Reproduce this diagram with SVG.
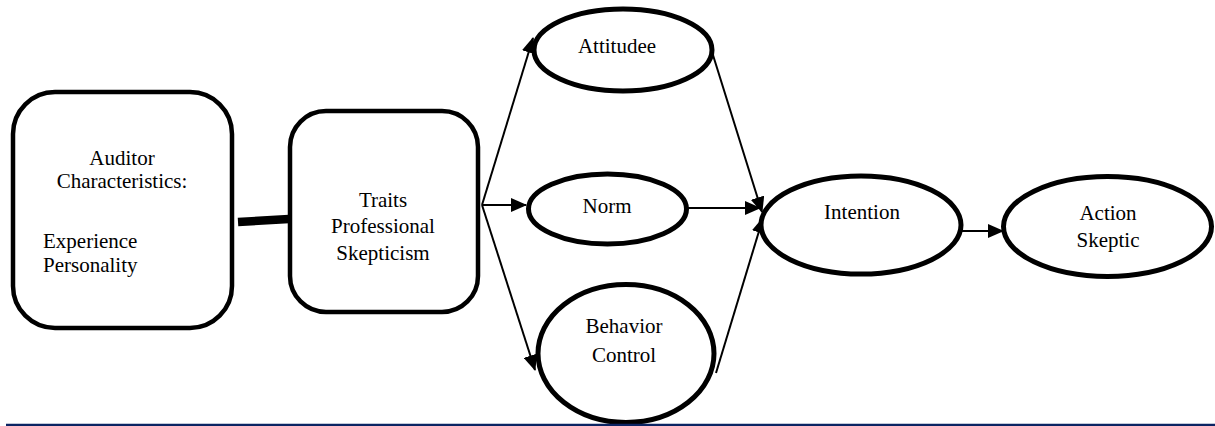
<svg xmlns="http://www.w3.org/2000/svg" width="1215" height="426" viewBox="0 0 1215 426">
<style>
  .box { fill: #ffffff; stroke: #000000; stroke-width: 4.5; }
  .ell { fill: #ffffff; stroke: #000000; stroke-width: 5; }
  .lbl { font-size: 21px; fill: #000000; }
  .c { text-anchor: middle; }
  .arr { stroke: #000000; stroke-width: 2; fill: none; marker-end: url(#ah); }
</style>
<defs>
  <marker id="ah" markerUnits="userSpaceOnUse" markerWidth="16" markerHeight="14" viewBox="0 0 16 14" refX="15" refY="7" orient="auto">
    <path d="M0,0 L16,7 L0,14 Z" fill="#000000"/>
  </marker>
</defs>
<rect x="0" y="0" width="1215" height="426" fill="#ffffff"/>

<g id="connectors">
  <line x1="238" y1="222" x2="289" y2="219" stroke="#000000" stroke-width="8.5"/>
  <line class="arr" x1="482" y1="205" x2="533" y2="38"/>
  <line class="arr" x1="482" y1="205" x2="526" y2="205"/>
  <line class="arr" x1="482" y1="205" x2="535" y2="370"/>
  <line class="arr" x1="713" y1="55" x2="762" y2="212"/>
  <line class="arr" x1="682" y1="208" x2="760" y2="208"/>
  <line class="arr" x1="716" y1="373" x2="763" y2="218"/>
  <line class="arr" x1="950" y1="231" x2="1003" y2="231"/>
</g>

<g font-family="'Liberation Serif', 'Times New Roman', 'DejaVu Serif', serif">
<g id="auditor">
  <rect class="box" x="13" y="92" width="219" height="236" rx="42" ry="42"/>
  <text class="lbl c" x="122" y="165">Auditor</text>
  <text class="lbl c" x="122" y="188">Characteristics:</text>
  <text class="lbl" x="43" y="248">Experience</text>
  <text class="lbl" x="43" y="272">Personality</text>
</g>

<g id="traits">
  <rect class="box" x="290" y="111" width="188" height="201" rx="36" ry="36"/>
  <text class="lbl c" x="383" y="207">Traits</text>
  <text class="lbl c" x="383" y="233">Professional</text>
  <text class="lbl c" x="383" y="260">Skepticism</text>
</g>

<g id="attitude">
  <ellipse class="ell" cx="623" cy="50" rx="89" ry="41"/>
  <text class="lbl c" x="617" y="53">Attitudee</text>
</g>

<g id="norm">
  <ellipse class="ell" cx="607.5" cy="209" rx="79" ry="35"/>
  <text class="lbl c" x="607" y="213">Norm</text>
</g>

<g id="behavior">
  <ellipse class="ell" cx="626" cy="353.5" rx="88" ry="69"/>
  <text class="lbl c" x="624" y="333">Behavior</text>
  <text class="lbl c" x="624" y="362">Control</text>
</g>

<g id="intention">
  <ellipse class="ell" cx="861" cy="225" rx="100" ry="49"/>
  <text class="lbl c" x="862" y="219">Intention</text>
</g>

<g id="action">
  <ellipse class="ell" cx="1107.5" cy="226.5" rx="104" ry="50"/>
  <text class="lbl c" x="1108" y="220">Action</text>
  <text class="lbl c" x="1108" y="247">Skeptic</text>
</g>
</g>

<line x1="6" y1="425" x2="1215" y2="425" stroke="#0b2463" stroke-width="2.5"/>
</svg>
